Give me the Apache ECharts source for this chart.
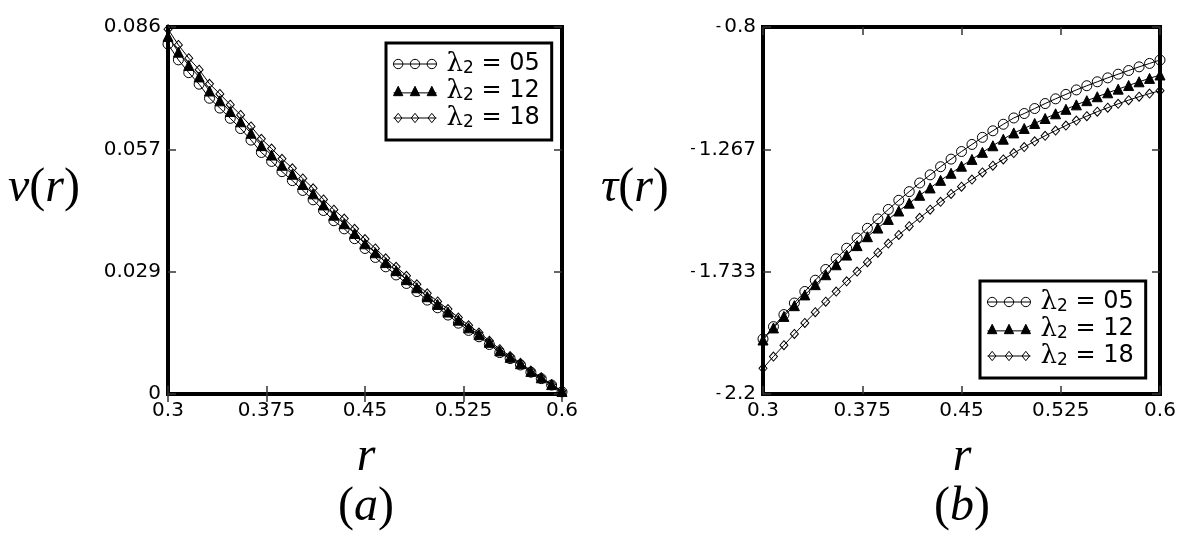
<!DOCTYPE html>
<html>
<head>
<meta charset="utf-8">
<script src="https://cdn.jsdelivr.net/npm/echarts@6/dist/echarts.min.js"></script>
<style>
html,body{margin:0;padding:0;background:#fff;}
#chart{width:1200px;height:552px;}
</style>
</head>
<body>
<div id="chart"></div>
<script>
// ---- data ----
const R = [0.3000,0.3079,0.3158,0.3237,0.3316,0.3395,0.3474,0.3553,0.3632,0.3711,
           0.3789,0.3868,0.3947,0.4026,0.4105,0.4184,0.4263,0.4342,0.4421,0.4500,
           0.4579,0.4658,0.4737,0.4816,0.4895,0.4974,0.5053,0.5132,0.5211,0.5289,
           0.5368,0.5447,0.5526,0.5605,0.5684,0.5763,0.5842,0.5921,0.6000];

const V05 = [0.0820,0.0783,0.0753,0.0726,0.0693,0.0670,0.0646,0.0622,0.0595,0.0566,
             0.0545,0.0521,0.0500,0.0477,0.0455,0.0430,0.0406,0.0387,0.0364,0.0341,
             0.0320,0.0298,0.0279,0.0259,0.0240,0.0220,0.0202,0.0185,0.0166,0.0149,
             0.0134,0.0116,0.0097,0.0083,0.0068,0.0051,0.0036,0.0021,0.0005];
const V12 = [0.0838,0.0801,0.0770,0.0743,0.0710,0.0687,0.0662,0.0638,0.0611,0.0582,
             0.0560,0.0536,0.0515,0.0491,0.0469,0.0443,0.0419,0.0399,0.0376,0.0352,
             0.0331,0.0308,0.0289,0.0268,0.0249,0.0228,0.0210,0.0192,0.0173,0.0155,
             0.0139,0.0121,0.0101,0.0086,0.0071,0.0053,0.0038,0.0022,0.0006];
const V18 = [0.0855,0.0818,0.0787,0.0760,0.0727,0.0703,0.0678,0.0654,0.0627,0.0598,
             0.0575,0.0551,0.0529,0.0505,0.0482,0.0456,0.0432,0.0411,0.0387,0.0363,
             0.0341,0.0318,0.0298,0.0277,0.0257,0.0236,0.0217,0.0199,0.0179,0.0161,
             0.0144,0.0125,0.0105,0.0089,0.0073,0.0055,0.0039,0.0023,0.0007];

const T05 = [-1.990,-1.943,-1.897,-1.853,-1.809,-1.766,-1.725,-1.684,-1.644,-1.605,
             -1.568,-1.532,-1.496,-1.461,-1.428,-1.395,-1.364,-1.333,-1.304,-1.275,
             -1.248,-1.221,-1.196,-1.171,-1.147,-1.130,-1.111,-1.092,-1.074,-1.057,
             -1.040,-1.024,-1.009,-0.994,-0.980,-0.966,-0.952,-0.939,-0.926];
const T12 = [-1.994,-1.948,-1.904,-1.863,-1.822,-1.783,-1.745,-1.707,-1.670,-1.634,
             -1.600,-1.567,-1.534,-1.502,-1.472,-1.442,-1.414,-1.385,-1.358,-1.331,
             -1.305,-1.278,-1.253,-1.228,-1.204,-1.187,-1.168,-1.149,-1.131,-1.114,
             -1.097,-1.081,-1.066,-1.051,-1.037,-1.023,-1.009,-0.996,-0.983];
const T18 = [-2.102,-2.057,-2.014,-1.971,-1.929,-1.888,-1.848,-1.809,-1.770,-1.733,
             -1.697,-1.661,-1.626,-1.593,-1.560,-1.528,-1.497,-1.467,-1.437,-1.409,
             -1.382,-1.355,-1.329,-1.305,-1.281,-1.258,-1.236,-1.215,-1.195,-1.176,
             -1.157,-1.140,-1.123,-1.108,-1.093,-1.079,-1.066,-1.054,-1.043];

const NAMES = ['λ2 = 05', 'λ2 = 12', 'λ2 = 18'];

const X_TICKS = [0.3, 0.375, 0.45, 0.525, 0.6];
const X_TICK_LABELS = ['0.3', '0.375', '0.45', '0.525', '0.6'];
const V_TICKS = [0, 0.028667, 0.057333, 0.086];
const V_TICK_LABELS = ['0', '0.029', '0.057', '0.086'];
const T_TICKS = [-2.2, -1.733333, -1.266667, -0.8];
const T_TICK_LABELS = ['-2.2', '-1.733', '-1.267', '-0.8'];

// ---- helpers ----
function pick(ticks, labels, v) {
  let best = 0, bd = Infinity;
  ticks.forEach((t, i) => { const d = Math.abs(t - v); if (d < bd) { bd = d; best = i; } });
  return labels[best];
}
function pairs(xs, ys) { return xs.map((x, i) => [x, ys[i]]); }

const LABEL_FONT = {fontFamily: 'DejaVu Sans', fontSize: 20, color: '#000'};
const TICK_STYLE = {show: true, inside: true, length: 8, lineStyle: {color: '#333', width: 1.5}};

function xAxes(grid, ticks) {
  return [
    {type: 'value', gridIndex: grid, min: 0.3, max: 0.6, position: 'bottom',
     axisLine: {show: false}, splitLine: {show: false},
     axisTick: Object.assign({customValues: ticks}, TICK_STYLE),
     axisLabel: Object.assign({customValues: ticks, margin: 7,
       formatter: v => pick(X_TICKS, X_TICK_LABELS, v)}, LABEL_FONT)},
    {type: 'value', gridIndex: grid, min: 0.3, max: 0.6, position: 'top',
     axisLine: {show: false}, splitLine: {show: false},
     axisTick: Object.assign({customValues: ticks}, TICK_STYLE),
     axisLabel: {show: false}}
  ];
}
function yAxes(grid, min, max, ticks, labels, rich) {
  return [
    {type: 'value', gridIndex: grid, min: min, max: max, position: 'left',
     axisLine: {show: false}, splitLine: {show: false},
     axisTick: Object.assign({customValues: ticks}, TICK_STYLE),
     axisLabel: Object.assign({customValues: ticks, margin: 7,
       formatter: v => {
         const s = pick(ticks, labels, v);
         if (rich && s.charAt(0) === '-') return '{m|-}{n|' + s.slice(1) + '}';
         return s;
       },
       rich: rich || undefined}, LABEL_FONT)},
    {type: 'value', gridIndex: grid, min: min, max: max, position: 'right',
     axisLine: {show: false}, splitLine: {show: false},
     axisTick: Object.assign({customValues: ticks}, TICK_STYLE),
     axisLabel: {show: false}}
  ];
}

const HOLLOW = {color: 'rgba(0,0,0,0)', borderColor: '#000', borderWidth: 1};
const FILLED = {color: '#000', borderColor: '#000', borderWidth: 1};
const SYMS = [
  {symbol: 'circle', size: 10, style: HOLLOW},
  {symbol: 'triangle', size: 10, style: FILLED},
  {symbol: 'diamond', size: [8, 9], style: HOLLOW}
];

function series(xIdx, yIdx, ys) {
  return ys.map((vals, k) => ({
    type: 'line', name: NAMES[k], xAxisIndex: xIdx, yAxisIndex: yIdx,
    data: pairs(R, vals), symbol: SYMS[k].symbol, symbolSize: SYMS[k].size,
    showSymbol: true, showAllSymbol: true, clip: false,
    lineStyle: {color: '#000', width: 1}, itemStyle: SYMS[k].style,
    emphasis: {disabled: true}, z: 2 + k
  }));
}

const ICON_CIRC = 'path://M0,5 L46,5 M0,5 A5,5 0 1,1 10,5 A5,5 0 1,1 0,5 Z M18,5 A5,5 0 1,1 28,5 A5,5 0 1,1 18,5 Z M36,5 A5,5 0 1,1 46,5 A5,5 0 1,1 36,5 Z';
const ICON_TRI = 'path://M0,7 L46,7 M0,10 L5,0 L10,10 Z M18,10 L23,0 L28,10 Z M36,10 L41,0 L46,10 Z';
const ICON_DIA = 'path://M0,5 L46,5 M1,5 L5,0 L9,5 L5,10 Z M19,5 L23,0 L27,5 L23,10 Z M37,5 L41,0 L45,5 L41,10 Z';

function legend(left, top) {
  return {
    orient: 'vertical', left: left, top: top,
    borderColor: '#000', borderWidth: 3, borderRadius: 0,
    padding: [8, 12, 9, 7], itemGap: 1, itemWidth: 43, itemHeight: 10,
    selectedMode: false,
    data: [
      {name: NAMES[0], icon: ICON_CIRC, itemStyle: HOLLOW},
      {name: NAMES[1], icon: ICON_TRI, itemStyle: FILLED},
      {name: NAMES[2], icon: ICON_DIA, itemStyle: HOLLOW}
    ],
    formatter: name => '{g|}{l|λ}{s|2}{t| = ' + name.split(' = ')[1] + '}',
    textStyle: {
      color: '#000', fontFamily: 'DejaVu Sans', fontSize: 24,
      rich: {
        g: {width: 5, lineHeight: 26},
        l: {fontFamily: 'DejaVu Serif', fontSize: 26, lineHeight: 26, color: '#000'},
        s: {fontFamily: 'DejaVu Sans', fontSize: 17, lineHeight: 14, verticalAlign: 'bottom', color: '#000'},
        t: {fontFamily: 'DejaVu Sans', fontSize: 24, lineHeight: 26, color: '#000'}
      }
    }
  };
}

const MATH_RICH = {
  i: {fontFamily: 'Liberation Serif', fontStyle: 'italic', fontSize: 48, color: '#000'},
  p: {fontFamily: 'Liberation Serif', fontSize: 48, color: '#000'}
};
function mathText(x, y, text, align) {
  return {type: 'text', x: x, y: y, silent: true,
    style: {text: text, rich: MATH_RICH, align: align || 'center', verticalAlign: 'middle'}};
}

const chart = echarts.init(document.getElementById('chart'), null, {renderer: 'canvas'});
chart.setOption({
  animation: false,
  backgroundColor: '#fff',
  grid: [
    {left: 168, top: 27, width: 394, height: 367, show: true, borderColor: '#000', borderWidth: 4, backgroundColor: 'rgba(0,0,0,0)'},
    {left: 763, top: 27, width: 397, height: 367, show: true, borderColor: '#000', borderWidth: 4, backgroundColor: 'rgba(0,0,0,0)'}
  ],
  xAxis: xAxes(0, X_TICKS).concat(xAxes(1, X_TICKS)),
  yAxis: yAxes(0, 0, 0.086, V_TICKS, V_TICK_LABELS, null)
    .concat(yAxes(1, -2.2, -0.8, T_TICKS, T_TICK_LABELS,
      {m: {fontFamily: 'DejaVu Sans', fontSize: 15, padding: [0, 3, 0, 0], color: '#000'},
       n: {fontFamily: 'DejaVu Sans', fontSize: 20, color: '#000'}})),
  legend: [legend(386, 43), legend(980, 281)],
  series: series(0, 0, [V05, V12, V18]).concat(series(2, 2, [T05, T12, T18])),
  graphic: [
    mathText(8, 188, '{i|v}{p|(}{i|r}{p|)}', 'left'),
    mathText(601, 188, '{i|τ}{p|(}{i|r}{p|)}', 'left'),
    mathText(366, 457, '{i|r}'),
    mathText(962, 457, '{i|r}'),
    mathText(366, 507, '{p|(}{i|a}{p|)}'),
    mathText(962, 507, '{p|(}{i|b}{p|)}')
  ]
});
</script>
</body>
</html>
